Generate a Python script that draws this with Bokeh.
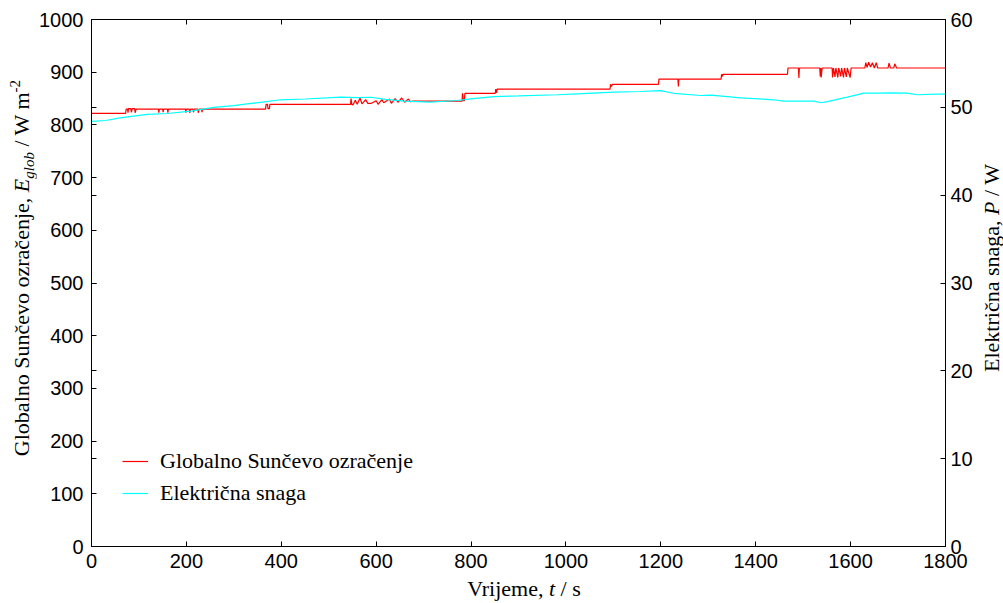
from bokeh.plotting import figure
from bokeh.models import (Range1d, LinearAxis, FixedTicker, Legend, LegendItem,
                          ColumnDataSource, Div)
from bokeh.layouts import row, column
from bokeh.embed import file_html
from bokeh.resources import INLINE

# ---------------- data ----------------
red_t = [0, 72, 73, 76, 77, 78, 83, 84, 86, 91, 92, 94,
         141, 142, 143, 150, 151, 152, 160, 161, 162,
         198, 199, 200, 206, 207, 209, 214, 215, 217, 224, 225, 227, 232, 233, 234,
         367, 368, 371, 372, 375, 376,
         546, 547, 549, 552, 556, 560, 566, 570, 578, 582, 590, 600, 604, 612, 616,
         628, 632, 640, 646, 654, 660, 668, 672, 679,
         781, 782, 784, 786, 787,
         851, 852, 854, 855, 857,
         1093, 1094, 1096, 1098,
         1195, 1196, 1236, 1237, 1238,
         1327, 1328, 1330, 1331,
         1467, 1468, 1490, 1491, 1492,
         1535, 1536, 1537, 1538, 1540,
         1561, 1562, 1564, 1567, 1569, 1573, 1575, 1579, 1581, 1585, 1587, 1591, 1593, 1599, 1601,
         1630, 1632, 1635, 1638, 1642, 1646, 1650, 1654, 1657,
         1679, 1681, 1684, 1691, 1693, 1697,
         1800]
red_E = [822, 822, 830, 830, 823, 831, 831, 824, 831, 831, 823, 830,
         830, 823, 830, 830, 824, 830, 830, 823, 830,
         830, 823, 830, 830, 823, 830, 830, 824, 830, 830, 823, 830, 830, 824, 830,
         830, 839, 839, 831, 831, 839,
         839, 850, 838, 839, 847, 839, 851, 840, 848, 841, 841, 846, 839, 848, 842,
         849, 841, 850, 843, 851, 843, 849, 844, 845,
         845, 860, 846, 846, 860,
         860, 868, 861, 868, 868,
         868, 877, 873, 877,
         877, 887, 887, 873, 887,
         887, 896, 892, 896,
         896, 908, 908, 889, 908,
         908, 892, 908, 890, 908,
         908, 890, 908, 891, 908, 890, 908, 892, 908, 890, 908, 891, 908, 890, 908,
         908, 918, 909, 919, 910, 918, 908, 918, 908,
         908, 917, 908, 908, 916, 908,
         908]

cyan_t = [0, 30, 60, 117, 160, 209, 258, 300, 328, 360, 398, 450, 525, 560, 588,
          620, 658, 714, 771, 799, 848, 900, 982, 1024, 1101, 1157, 1199, 1227,
          1284, 1305, 1368, 1438, 1459, 1494, 1523, 1537, 1551, 1593, 1628, 1663,
          1684, 1719, 1740, 1782, 1800]
cyan_P = [48.4, 48.5, 48.8, 49.2, 49.3, 49.56, 50.0, 50.2, 50.4, 50.6, 50.86, 50.95,
          51.16, 51.1, 51.15, 50.9, 50.7, 50.6, 50.78, 50.97, 51.23, 51.3, 51.43,
          51.54, 51.73, 51.8, 51.9, 51.6, 51.35, 51.4, 51.08, 50.86, 50.7, 50.7,
          50.7, 50.52, 50.65, 51.16, 51.62, 51.62, 51.65, 51.62, 51.43, 51.5, 51.5]

x_ticks = list(range(0, 1801, 200))
left_ticks = list(range(0, 1001, 100))
right_ticks = list(range(0, 61, 10))

legend_labels = ["Globalno Sunčevo ozračenje", "Električna snaga"]
left_title_html = ('Globalno Sunčevo ozračenje, <i>E</i>'
                   '<span style="font-size:15px;vertical-align:-5px;line-height:0"><i>glob</i></span>'
                   ' / W m<span style="font-size:15px;vertical-align:9px;line-height:0">-2</span>')
right_title_html = 'Električna snaga, <i>P</i> / W'
x_title_html = 'Vrijeme, <i>t</i> / s'

# ---------------- layout sizes ----------------
LEFT_W, RIGHT_W, TOTAL_W = 36, 26, 1003
TOP_H, BOTTOM_H = 578, 25
P_W = TOTAL_W - LEFT_W - RIGHT_W

p = figure(width=P_W, height=TOP_H, x_range=Range1d(0, 1800), y_range=Range1d(0, 1000),
           output_backend="svg", toolbar_location=None,
           min_border_left=55, min_border_right=32, min_border_top=19, min_border_bottom=32)
p.extra_y_ranges = {"pw": Range1d(0, 60)}
p.xgrid.visible = False
p.ygrid.visible = False
p.outline_line_color = "black"
p.outline_line_width = 1
p.background_fill_color = "white"
p.border_fill_color = "white"

TICK_FONT = "Liberation Sans"
TICK_SIZE = "20px"


def style_axis(ax, show_labels=True):
    ax.axis_label = None
    ax.axis_line_color = "black"
    ax.major_tick_in = 5
    ax.major_tick_out = 0
    ax.minor_tick_in = 0
    ax.minor_tick_out = 0
    ax.major_tick_line_color = "black"
    ax.major_label_text_font = TICK_FONT
    ax.major_label_text_color = "black"
    if show_labels:
        ax.major_label_text_font_size = TICK_SIZE
    else:
        ax.major_label_overrides = {t: "" for t in x_ticks}
        ax.major_label_text_font_size = "1px"
        ax.major_label_standoff = 0


xa = p.xaxis[0]
xa.ticker = FixedTicker(ticks=x_ticks)
style_axis(xa)
xa.major_label_standoff = 7

ya = p.yaxis[0]
ya.ticker = FixedTicker(ticks=left_ticks, minor_ticks=[1000.0 / 6 * k for k in range(1, 6)])
style_axis(ya)
ya.minor_tick_in = 5
ya.minor_tick_line_color = "black"
ya.major_label_standoff = 8

ra = LinearAxis(y_range_name="pw", ticker=FixedTicker(ticks=right_ticks))
style_axis(ra)
ra.major_label_standoff = 5
p.add_layout(ra, "right")

ta = LinearAxis(ticker=FixedTicker(ticks=x_ticks))
style_axis(ta, show_labels=False)
p.add_layout(ta, "above")

r_red = p.line(x="t", y="v", source=ColumnDataSource(dict(t=red_t, v=red_E)),
               line_color="#ff0000", line_width=1.2)
r_cyan = p.line(x="t", y="v", source=ColumnDataSource(dict(t=cyan_t, v=cyan_P)),
                y_range_name="pw", line_color="#00ffff", line_width=1.2)

legend = Legend(items=[LegendItem(label=legend_labels[0], renderers=[r_red]),
                       LegendItem(label=legend_labels[1], renderers=[r_cyan])],
                location=(31, 40), orientation="vertical",
                label_text_font="Liberation Serif", label_text_font_size="22px",
                label_text_color="black", label_standoff=12,
                glyph_width=26, glyph_height=22, label_height=22, spacing=6,
                padding=0, margin=0, border_line_color=None, background_fill_alpha=0)
p.add_layout(legend, "center")

# ---------------- axis titles as rich HTML text ----------------
FONT_CSS = "font-family:Liberation Serif,serif;font-size:22px;color:black;white-space:nowrap;"


def vertical_title(html, width, height, line_h, pad):
    inner = (f'<div style="position:relative;width:{width}px;height:{height}px;overflow:visible">'
             f'<div style="position:absolute;left:0;top:0;width:{height}px;height:{line_h}px;'
             f'line-height:{line_h}px;box-sizing:border-box;padding-left:{pad}px;text-align:center;'
             f'transform-origin:0 0;transform:translate(0px,{height}px) rotate(-90deg);{FONT_CSS}">'
             f'{html}</div></div>')
    return Div(text=inner, width=width, height=height, margin=0)


ldiv = vertical_title(left_title_html, LEFT_W, TOP_H, 43, 42)
rdiv = vertical_title(right_title_html, RIGHT_W, TOP_H, 29, 42)
xdiv = Div(text=(f'<div style="width:{TOTAL_W}px;height:{BOTTOM_H}px;line-height:21px;'
                 f'box-sizing:border-box;padding-left:45px;text-align:center;{FONT_CSS}">'
                 f'{x_title_html}</div>'),
           width=TOTAL_W, height=BOTTOM_H, margin=0)

layout = column(row(ldiv, p, rdiv, spacing=0), xdiv, spacing=0)

open("out.html", "w").write(file_html(layout, INLINE))
